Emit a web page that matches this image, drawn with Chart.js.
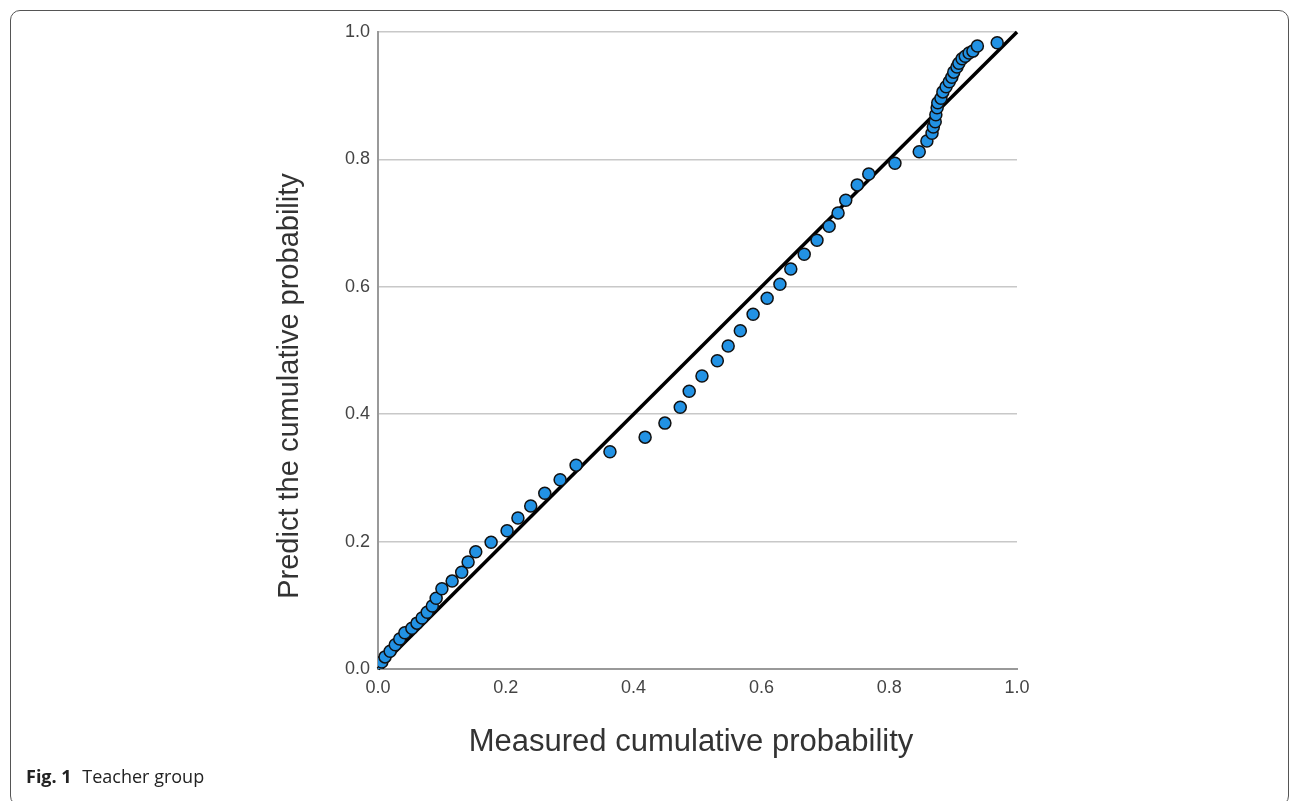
<!DOCTYPE html>
<html>
<head>
<meta charset="utf-8">
<title>Teacher group P-P plot</title>
<script src="https://cdn.jsdelivr.net/npm/chart.js@4/dist/chart.umd.min.js"></script>
<style>
    body { margin: 0; background: #fff; }
    #wrap { position: relative; width: 1293px; height: 801px; overflow: hidden; }
    #frame {
        position: absolute; left: 10px; top: 10px; width: 1277px; height: 794px;
        border: 1px solid #555; border-radius: 10px; pointer-events: none;
    }
    #caption {
        position: absolute; left: 26px; top: 764px;
        font-family: "Open Sans", sans-serif; font-size: 18px; color: #222;
    }
    #caption b { margin-right: 6px; }
</style>
</head>
<body>
<div id="wrap">
    <canvas id="ppChart" width="1293" height="801"></canvas>
    <div id="frame"></div>
    <div id="caption"><b>Fig. 1</b> Teacher group</div>
</div>
<script>
// Chart data
const measured = [0.000, 0.006, 0.011, 0.019, 0.027, 0.034, 0.042, 0.053, 0.061, 0.069, 0.077, 0.085,
    0.091, 0.100, 0.116, 0.131, 0.141, 0.153, 0.177, 0.202, 0.219, 0.239, 0.261, 0.285, 0.310, 0.363,
    0.418, 0.449, 0.473, 0.487, 0.507, 0.531, 0.548, 0.567, 0.587, 0.609, 0.629, 0.646, 0.667, 0.687,
    0.706, 0.720, 0.732, 0.750, 0.768, 0.809, 0.847, 0.859, 0.867, 0.869, 0.872, 0.873, 0.875, 0.876,
    0.881, 0.884, 0.889, 0.894, 0.898, 0.901, 0.906, 0.909, 0.914, 0.919, 0.925, 0.931, 0.938, 0.969];
const predicted = [0.005, 0.011, 0.019, 0.028, 0.038, 0.047, 0.057, 0.064, 0.072, 0.080, 0.089, 0.099,
    0.111, 0.126, 0.138, 0.152, 0.168, 0.184, 0.199, 0.217, 0.237, 0.256, 0.276, 0.297, 0.320, 0.341,
    0.364, 0.386, 0.411, 0.436, 0.460, 0.484, 0.507, 0.531, 0.557, 0.582, 0.604, 0.628, 0.651, 0.673,
    0.695, 0.716, 0.736, 0.760, 0.777, 0.794, 0.812, 0.829, 0.841, 0.851, 0.859, 0.870, 0.881, 0.889,
    0.896, 0.906, 0.914, 0.922, 0.929, 0.937, 0.945, 0.951, 0.958, 0.962, 0.967, 0.970, 0.978, 0.983];
const refLineX = [0, 1];
const refLineY = [0, 1];
const axisTicks = [0, 0.2, 0.4, 0.6, 0.8, 1.0];

const xTitle = 'Measured cumulative probability';
const yTitle = 'Predict the cumulative probability';

// Shared styles
const fontFamily = 'Liberation Sans, Arial, sans-serif';
const tickFont = { family: fontFamily, size: 18 };

// Axis titles sit a little off-centre in the original, so draw them by hand
const axisTitles = {
    id: 'axisTitles',
    afterDraw(chart) {
        const ctx = chart.ctx;
        ctx.save();
        ctx.fillStyle = '#333';
        ctx.textAlign = 'center';
        ctx.textBaseline = 'middle';
        ctx.font = `31px ${fontFamily}`;
        ctx.fillText(xTitle, 691, 742);
        ctx.font = `29px ${fontFamily}`;
        ctx.translate(290, 386);
        ctx.rotate(-Math.PI / 2);
        ctx.fillText(yTitle, 0, 0);
        ctx.restore();
    }
};

// Initialize chart
new Chart(document.getElementById('ppChart'), {
    type: 'scatter',
    data: {
        datasets: [{
            label: 'Observed',
            data: measured.map((x, i) => ({ x: x, y: predicted[i] })),
            backgroundColor: 'rgb(34, 146, 228)',
            borderColor: '#111',
            borderWidth: 1.5,
            pointRadius: 6,
            order: 0
        }, {
            type: 'line',
            label: 'Reference',
            data: refLineX.map((x, i) => ({ x: x, y: refLineY[i] })),
            borderColor: '#000',
            borderWidth: 3.5,
            pointRadius: 0,
            fill: false,
            clip: false,
            order: 1
        }]
    },
    options: {
        responsive: false,
        animation: false,
        layout: { padding: { top: 32, right: 276, left: 0, bottom: 0 } },
        plugins: {
            legend: { display: false },
            tooltip: { enabled: false }
        },
        scales: {
            x: {
                type: 'linear',
                min: 0,
                max: 1,
                afterBuildTicks: scale => { scale.ticks = axisTicks.map(v => ({ value: v })); },
                afterFit: scale => { scale.height = 132; },
                grid: { display: false, drawTicks: false },
                border: { color: '#999', width: 2 },
                ticks: {
                    font: tickFont,
                    color: '#444',
                    padding: 8,
                    maxRotation: 0,
                    callback: v => v.toFixed(1)
                }
            },
            y: {
                type: 'linear',
                min: 0,
                max: 1,
                afterBuildTicks: scale => { scale.ticks = axisTicks.map(v => ({ value: v })); },
                afterFit: scale => { scale.width = 378; },
                grid: { color: '#c8c8c8', lineWidth: 1.5, drawTicks: false },
                border: { color: '#999', width: 2 },
                ticks: {
                    font: tickFont,
                    color: '#444',
                    padding: 8,
                    callback: v => v.toFixed(1)
                }
            }
        }
    },
    plugins: [axisTitles]
});
</script>
</body>
</html>
